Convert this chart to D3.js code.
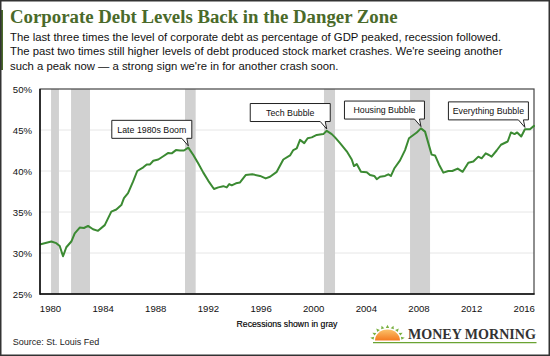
<!DOCTYPE html>
<html><head><meta charset="utf-8">
<script src="https://cdn.jsdelivr.net/npm/d3@7"></script>
<style>body{margin:0;background:#fff} svg{display:block}</style>
</head><body><svg id="c" width="550" height="356"></svg>
<script>
// ---- data ----
const dataYears = [1979.29,1980.10,1980.48,1980.74,1980.99,1981.24,1981.62,1981.88,1982.26,1982.58,1982.89,1983.27,1983.65,1984.16,1984.66,1985.04,1985.42,1985.62,1985.93,1986.31,1986.63,
 1987.09,1987.35,1987.60,1987.85,1988.23,1988.61,1988.99,1989.25,1989.57,1989.88,1990.18,1990.51,1990.89,1991.27,1991.65,1992.03,1992.46,1992.79,1993.17,1993.43,1993.62,1993.81,1994.13,
 1994.44,1994.87,1995.37,1995.96,1996.39,1996.72,1997.23,1997.73,1998.24,1998.49,1998.75,1999.00,1999.32,1999.58,1999.89,2000.27,2000.77,2001.03,2001.41,
 2001.66,2002.04,2002.55,2002.93,2003.10,2003.31,2003.63,2004.07,2004.32,2004.64,2004.83,2005.08,2005.46,2005.71,2005.91,2006.16,2006.60,2006.98,2007.28,2007.87,2008.19,2008.50,2008.75,2009.00,2009.26,2009.56,
 2009.89,2010.27,2010.57,2010.98,2011.36,2011.79,2012.17,2012.55,2012.80,2013.11,2013.36,2013.56,2013.94,2014.27,2014.78,2015.03,2015.30,2015.50,2015.81,2016.09,2016.47,2016.78];
const debtPct = [31.06,31.4,31.2,30.85,29.6,30.7,31.4,32.4,33.1,33.05,33.3,32.9,32.7,33.4,35.05,35.3,35.85,36.7,37.3,38.7,40.0,
 40.45,40.8,40.8,41.25,41.4,41.8,42.2,42.15,42.55,42.5,42.5,42.85,41.95,40.9,39.8,38.8,37.8,38.0,38.15,38.0,38.4,38.25,38.5,
 38.6,39.5,39.6,39.4,39.1,39.3,39.9,41.4,41.9,42.55,42.75,43.8,43.4,44.0,44.1,44.4,44.5,44.9,44.5,
 44.1,43.4,42.4,41.4,40.6,40.85,39.9,39.85,39.5,39.4,39.0,39.3,39.4,39.6,39.4,40.3,41.3,42.55,44.0,44.7,45.2,44.8,43.4,42.0,41.9,40.8,
 39.8,40.0,40.0,40.3,39.9,41.0,41.15,41.75,41.55,42.15,41.95,41.75,42.5,43.2,43.6,44.7,44.5,44.7,44.2,45.1,45.1,45.5];
const recessionStart = [1980.08,1981.60,1990.26,2000.82,2007.36];
const recessionEnd   = [1980.68,1983.04,1991.07,2001.66,2008.88];
const xTickYears = [1980,1984,1988,1992,1996,2000,2004,2008,2012,2016];
const yTickValues = [25,30,35,40,45,50];
const annotationLabels = ["Late 1980s Boom","Tech Bubble","Housing Bubble","Everything Bubble"];
const annotationYears  = [1990.51,2001.03,2008.19,2016.09];
const annotationValues = [42.85,44.9,45.2,45.1];
const titleText = "Corporate Debt Levels Back in the Danger Zone";
const subtitleLines = [
 "The last three times the level of corporate debt as percentage of GDP peaked, recession followed.",
 "The past two times still higher levels of debt produced stock market crashes. We're seeing another",
 "such a peak now \u2014 a strong sign we're in for another crash soon."];

// ---- layout ----
const svg = d3.select("#c");
const W = 550, H = 356;
const plot = {left:40, right:534, top:89, bottom:294};
const sans = "'Liberation Sans', Arial, sans-serif";
const serif = "'Liberation Serif', 'Times New Roman', serif";

const x = d3.scaleLinear().domain([1979.24, 2016.78]).range([plot.left, plot.right]);
const y = d3.scaleLinear().domain([25, 50]).range([plot.bottom, plot.top]);

svg.append("rect").attr("width",W).attr("height",H).attr("fill","#fff");

// header
svg.append("rect").attr("x",0).attr("y",10).attr("width",3).attr("height",60).attr("fill","#4a6a2a");
function fit(sel, target, base){
  sel.style("font-size", base+"px");
  const w = sel.node().getComputedTextLength();
  const fs = base*target/w;
  sel.style("font-size", fs+"px");
  return fs;
}
const title = svg.append("text").attr("x",10).attr("y",23.3)
  .attr("font-family",serif).attr("font-weight","bold").attr("fill","#4a6a2a").text(titleText);
fit(title, 388, 18);
const sub0 = svg.append("text").attr("x",10).attr("y",41)
  .attr("font-family",sans).attr("fill","#111").text(subtitleLines[0]);
const subFs = fit(sub0, 491, 10.2);
[55.3, 69.6].forEach((yy,i)=>{
  svg.append("text").attr("x",10).attr("y",yy).attr("font-family",sans).attr("fill","#111")
    .style("font-size",subFs+"px").text(subtitleLines[i+1]);
});

// gridlines
svg.append("g").selectAll("line").data(yTickValues.filter(v=>v>25 && v<50)).join("line")
  .attr("x1",plot.left).attr("x2",plot.right).attr("y1",d=>y(d)).attr("y2",d=>y(d))
  .attr("stroke","#e6e6e6").attr("stroke-width",1);

// recession bars
svg.append("g").selectAll("rect").data(recessionStart.map((s,i)=>[s,recessionEnd[i]])).join("rect")
  .attr("x",d=>x(d[0])).attr("width",d=>x(d[1])-x(d[0]))
  .attr("y",plot.top).attr("height",plot.bottom-plot.top).attr("fill","#d1d1d1");

// frame
svg.append("rect").attr("x",plot.left).attr("y",plot.top).attr("width",plot.right-plot.left)
  .attr("height",plot.bottom-plot.top).attr("fill","none").attr("stroke","#444").attr("stroke-width",1.2);

// line
const line = d3.line().x((d,i)=>x(dataYears[i])).y(d=>y(d)).curve(d3.curveLinear);
svg.append("path").attr("d",line(debtPct)).attr("fill","none").attr("stroke","#3b8a32")
  .attr("stroke-width",2).attr("stroke-linejoin","round").attr("stroke-linecap","round");

// axes
const yAxis = svg.append("g").attr("transform",`translate(${plot.left},0)`)
  .call(d3.axisLeft(y).tickValues(yTickValues).tickFormat(d=>d+"%").tickSize(0).tickPadding(8));
yAxis.select(".domain").remove();
yAxis.selectAll("text").attr("font-family",sans).style("font-size","9.6px").attr("fill","#111");
const xAxis = svg.append("g").attr("transform",`translate(0,${plot.bottom})`)
  .call(d3.axisBottom(x).tickValues(xTickYears).tickFormat(d3.format("d")).tickSize(0).tickPadding(11));
xAxis.select(".domain").remove();
xAxis.selectAll("text").attr("font-family",sans).style("font-size","9.6px").attr("fill","#111");

svg.append("line").attr("x1",plot.left).attr("x2",plot.left).attr("y1",plot.top).attr("y2",plot.bottom+0.75)
  .attr("stroke","#111").attr("stroke-width",1.5);
svg.append("line").attr("x1",plot.left).attr("x2",plot.right+0.6).attr("y1",plot.bottom).attr("y2",plot.bottom)
  .attr("stroke","#111").attr("stroke-width",1.5);

// annotations
const boxW = 80, boxH = 18;
annotationLabels.forEach((lab,i)=>{
  const tx = x(annotationYears[i]), ty = y(annotationValues[i]) - 1.8;
  const r = tx + 3.5, l = r - boxW, b = ty - 7.5, t = b - boxH;
  const p = `M${l},${t}H${r}V${b}H${r-5}L${tx},${ty}L${r-10},${b}H${l}Z`;
  svg.append("path").attr("d",p).attr("fill","#fff").attr("stroke","#222").attr("stroke-width",1);
  svg.append("text").attr("x",(l+r)/2).attr("y",(t+b)/2+3.2).attr("text-anchor","middle")
    .attr("font-family",sans).style("font-size","8.8px").attr("fill","#111").text(lab);
});

// footer texts
svg.append("text").attr("x",287).attr("y",326.5).attr("text-anchor","middle")
  .attr("font-family",sans).style("font-size","8.7px").attr("fill","#000").attr("stroke","#000").attr("stroke-width",0.15)
  .text("Recessions shown in gray");
svg.append("text").attr("x",12.7).attr("y",344.5).attr("font-family",sans).style("font-size","9px")
  .attr("fill","#222").text("Source: St. Louis Fed");

// logo
const defs = svg.append("defs");
const g = defs.append("linearGradient").attr("id","sun").attr("x1",0).attr("y1",0).attr("x2",0).attr("y2",1);
g.append("stop").attr("offset","0%").attr("stop-color","#fbc26a");
g.append("stop").attr("offset","100%").attr("stop-color","#f47b20");
const cx = 387.5, cy = 340.5;
svg.append("path").attr("d",`M${cx-12.5},${cy}A12.5,11 0 0 1 ${cx+12.5},${cy}Z`).attr("fill","url(#sun)");
d3.range(9).forEach(k=>{
  const a = Math.PI*(170 - k*20)/180;
  const r1 = 14, r2 = 17.5, hw = 0.12;
  const pts = [[Math.cos(a-hw)*r1, -Math.sin(a-hw)*r1*0.9],[Math.cos(a)*r2, -Math.sin(a)*r2*0.9],[Math.cos(a+hw)*r1, -Math.sin(a+hw)*r1*0.9]];
  svg.append("path").attr("d","M"+pts.map(p=>[cx+p[0],cy+p[1]].join(",")).join("L")+"Z").attr("fill","#7ab041");
});
svg.append("line").attr("x1",373).attr("x2",536.5).attr("y1",342.6).attr("y2",342.6).attr("stroke","#6aa332").attr("stroke-width",1.4);
const logo = svg.append("text").attr("x",408).attr("y",339.2).attr("font-family",serif).attr("font-weight","bold")
  .attr("fill","#333").text("MONEY MORNING");
fit(logo, 128, 16);

// outer border
svg.append("rect").attr("x",0.75).attr("y",0.75).attr("width",W-1.5).attr("height",H-1.5)
  .attr("fill","none").attr("stroke","#333").attr("stroke-width",1.5);
</script></body></html>
